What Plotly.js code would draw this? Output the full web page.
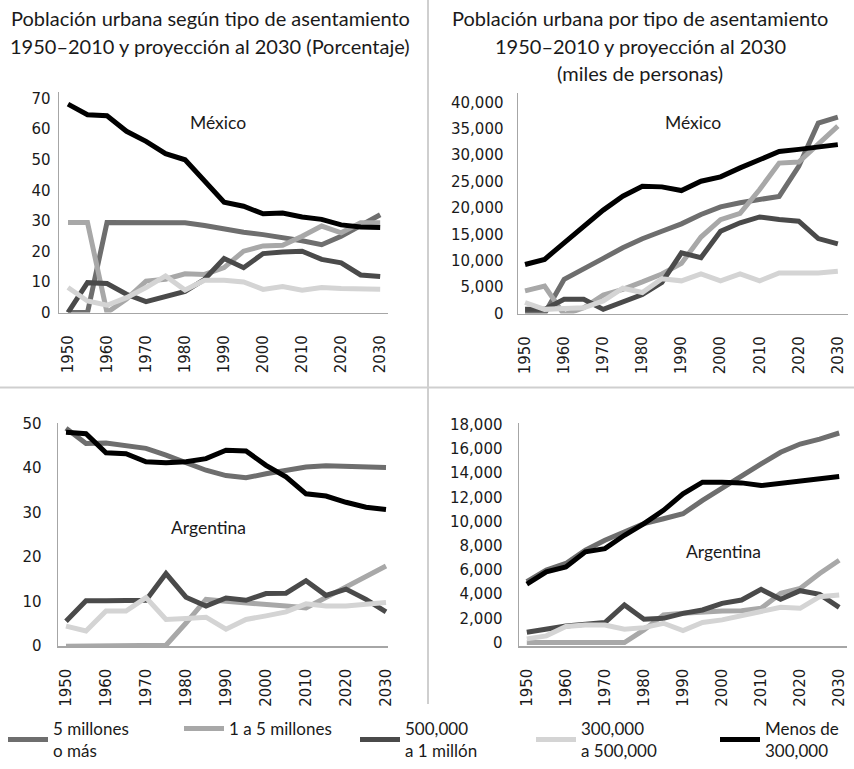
<!DOCTYPE html>
<html>
<head>
<meta charset="utf-8">
<script src="https://cdn.plot.ly/plotly-3.0.1.min.js"></script>
<style>html,body{margin:0;padding:0;background:#fff}#chart{width:854px;height:769px}</style>
</head>
<body>
<div id="chart"></div>
<script>
// ---- Data ----
const years = [1950,1955,1960,1965,1970,1975,1980,1985,1990,1995,2000,2005,2010,2015,2020,2025,2030];
const seriesNames = ["5 millones<br>o más","1 a 5 millones","500,000<br>a 1 millón","300,000<br>a 500,000","Menos de<br>300,000"];
const tickYears = [1950,1960,1970,1980,1990,2000,2010,2020,2030];

// México, porcentaje
const mxPct5mas  = [0,0,29.5,29.4,29.4,29.4,29.4,28.5,27.3,26.3,25.5,24.6,23.5,22.2,25,28.5,32];
const mxPct1a5   = [29.5,29.5,0,4.4,10.3,10.9,12.7,12.5,14.7,20.1,21.8,22,25,28.3,26.1,29.4,29.4];
const mxPct500k  = [0,9.8,9.5,6,3.6,5.2,6.9,10.9,17.7,14.7,19.3,19.8,20.1,17.4,16.3,12.3,11.8];
const mxPct300k  = [8.2,3.8,2.4,4.9,8.2,12,7.4,10.6,10.6,10,7.6,8.5,7.3,8.2,7.9,7.8,7.6];
const mxPctMenos = [68.2,64.7,64.4,59.3,56,52,50,43,36.1,34.8,32.3,32.6,31.3,30.5,28.7,28,27.8];

// México, miles de personas
const mxAbs5mas  = [0,0,6500,8400,10450,12470,14170,15600,17000,18770,20200,21000,21600,22200,27900,36100,37200];
const mxAbs1a5   = [4300,5200,-200,1100,3500,4600,6000,7500,9500,14500,17800,19000,23500,28500,28700,32000,35500];
const mxAbs500k  = [800,800,2700,2700,800,2100,3600,5900,11500,10600,15600,17200,18300,17800,17500,14200,13200];
const mxAbs300k  = [2100,800,950,1100,2400,4800,4000,6600,6200,7500,6200,7500,6200,7700,7700,7700,8000];
const mxAbsMenos = [9300,10270,13400,16570,19600,22240,24130,24000,23300,25070,25900,27600,29200,30700,31100,31600,32000];

// Argentina, porcentaje
const arPct5mas  = [48.9,45.5,45.6,45.1,44.4,42.9,41.2,39.5,38.3,37.8,38.7,39.5,40.2,40.5,40.4,40.2,40.1];
const arPct1a5   = [0,0,0,0,0,0.2,5.2,10.5,10.1,9.8,9.4,9,8.6,11,13.3,15.7,18];
const arPct500k  = [5.6,10.2,10.2,10.2,10.3,16.3,11,9,10.8,10.3,11.8,11.9,14.7,11.4,12.8,10.5,7.7];
const arPct300k  = [4.5,3.4,7.9,7.9,10.9,6,6.2,6.5,3.8,6,6.8,7.7,9.5,9,9,9.4,9.8];
const arPctMenos = [48,47.7,43.4,43.2,41.4,41.2,41.4,42.1,44,43.8,40.6,38,34.2,33.7,32.3,31.2,30.7];

// Argentina, miles de personas
const arAbs5mas  = [5020,5980,6530,7630,8450,9130,9820,10230,10640,11740,12780,13800,14760,15720,16400,16810,17310];
const arAbs1a5   = [0,0,0,0,0,0,1040,2280,2410,2550,2600,2630,2830,4060,4470,5700,6800];
const arAbs500k  = [850,1100,1370,1510,1650,3100,1920,2000,2410,2690,3240,3510,4390,3570,4280,3980,2910];
const arAbs300k  = [300,550,1320,1450,1450,1100,1230,1590,990,1650,1870,2190,2600,2910,2830,3790,3920];
const arAbsMenos = [4830,5840,6250,7490,7760,8860,9820,10920,12290,13250,13250,13190,12970,13170,13390,13520,13710];

// ---- Styling ----
const colors = ["#6e6e6e","#a8a8a8","#4a4a4a","#d4d4d4","#000000"];
const FONT = "Lato, 'Noto Sans', sans-serif";
const TICKFONT = "DejaVu Sans";
const W = 854, H = 769;
const fx = x => x / W;
const fy = y => 1 - y / H;

const panels = [
  {data:[mxPct5mas,mxPct1a5,mxPct500k,mxPct300k,mxPctMenos], xa:'x', ya:'y'},
  {data:[mxAbs5mas,mxAbs1a5,mxAbs500k,mxAbs300k,mxAbsMenos], xa:'x2', ya:'y2'},
  {data:[arPct5mas,arPct1a5,arPct500k,arPct300k,arPctMenos], xa:'x3', ya:'y3'},
  {data:[arAbs5mas,arAbs1a5,arAbs500k,arAbs300k,arAbsMenos], xa:'x4', ya:'y4'}
];

const traces = [];
panels.forEach((p, pi) => {
  p.data.forEach((vals, si) => {
    traces.push({
      type:'scatter', mode:'lines', x: years, y: vals,
      xaxis: p.xa, yaxis: p.ya,
      name: seriesNames[si], legendgroup: 's'+si,
      legend: si === 4 ? 'legend2' : 'legend',
      showlegend: pi === 0,
      line: {color: colors[si], width: 5},
      hoverinfo: 'x+y'
    });
  });
});

const tickFont = {family: TICKFONT, size: 15, color: '#1a1a1a'};
function xax(d0, d1, r, anchor) {
  return {domain:[fx(d0), fx(d1)], range: r, anchor: anchor,
    showline:true, linecolor:'#a6a6a6', linewidth:1.5, showgrid:false, zeroline:false,
    ticks:'', tickvals: tickYears, ticktext: tickYears.map(String), tickangle:-90,
    ticklabelstandoff: 15, tickfont: tickFont, fixedrange:true};
}
function yax(top, bottom, r, dtick, fmt, anchor, standoff) {
  return {domain:[fy(bottom), fy(top)], range: r, anchor: anchor,
    showline:true, linecolor:'#a6a6a6', linewidth:1.5, showgrid:false, zeroline:false,
    ticks:'', dtick: dtick, tick0: 0, tickformat: fmt, separatethousands: true,
    ticklabelstandoff: standoff, tickfont: tickFont, fixedrange:true};
}

const titleFont = {family: FONT, size: 20, color: '#1a1a1a'};
function ann(text, x, y, font) {
  return {text: text, xref:'paper', yref:'paper', x: fx(x), y: fy(y),
    xanchor:'center', yanchor:'middle', showarrow:false, font: font || titleFont};
}
const labelFont = {family: FONT, size: 17.5, color: '#1a1a1a'};
const legendFont = {family: FONT, size: 17, color: '#1a1a1a'};

const layout = {
  width: W, height: H,
  margin: {l:0, r:0, t:0, b:0},
  paper_bgcolor:'#ffffff', plot_bgcolor:'rgba(0,0,0,0)',
  showlegend: true,
  legend: {orientation:'h', x: fx(3), xanchor:'left', y: fy(741), yanchor:'middle',
    font: legendFont, entrywidth: 121, entrywidthmode:'pixels', itemwidth: 40,
    traceorder:'normal', valign:'middle', bgcolor:'rgba(0,0,0,0)'},
  legend2: {orientation:'h', x: fx(715), xanchor:'left', y: fy(741), yanchor:'middle',
    font: legendFont, itemwidth: 40, valign:'middle', bgcolor:'rgba(0,0,0,0)'},
  xaxis:  xax(59, 388, [1947.7, 2032], 'y'),
  yaxis:  yax(92, 313, [0, 72.2], 10, '', 'x', 4),
  xaxis2: xax(518, 848, [1948.2, 2032.6], 'y2'),
  yaxis2: yax(93, 314, [0, 41800], 5000, ',', 'x2', 10),
  xaxis3: xax(58, 388, [1948, 2030.5], 'y3'),
  yaxis3: yax(424, 647, [0, 50], 10, '', 'x3', 12),
  xaxis4: xax(519, 847, [1948, 2032], 'y4'),
  yaxis4: yax(424, 647, [-300, 18100], 2000, ',', 'x4', 12),
  shapes: [
    {type:'line', xref:'paper', yref:'paper', x0: fx(428), x1: fx(428), y0: fy(0), y1: fy(705), line:{color:'#cfcfcf', width:2}},
    {type:'line', xref:'paper', yref:'paper', x0: 0, x1: 1, y0: fy(388), y1: fy(388), line:{color:'#cfcfcf', width:2}}
  ],
  annotations: [
    ann('Población urbana según tipo de asentamiento', 210, 18),
    ann('1950–2010 y proyección al 2030 (Porcentaje)', 210, 46),
    ann('Población urbana por tipo de asentamiento', 640, 18),
    ann('1950–2010 y proyección al 2030', 640, 46),
    ann('(miles de personas)', 640, 73),
    ann('México', 218, 123, labelFont),
    ann('México', 693, 123, labelFont),
    ann('Argentina', 208, 528, labelFont),
    ann('Argentina', 723, 552, labelFont)
  ]
};

Plotly.newPlot('chart', traces, layout, {displayModeBar:false, staticPlot:true});
</script>
</body>
</html>
